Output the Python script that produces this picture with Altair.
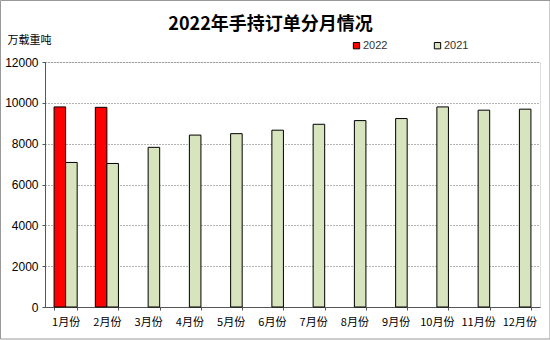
import altair as alt
import pandas as pd

months = ["1月份", "2月份", "3月份", "4月份", "5月份", "6月份",
          "7月份", "8月份", "9月份", "10月份", "11月份", "12月份"]
values_2022 = [9800, 9780, None, None, None, None, None, None, None, None, None, None]
values_2021 = [7080, 7030, 7820, 8420, 8490, 8660, 8950, 9130, 9230, 9800, 9640, 9690]
series = ["2022", "2021"]
colors = ["#FF0000", "#D7E4BD"]
y_ticks = [0, 2000, 4000, 6000, 8000, 10000, 12000]

rows = []
for m, v22, v21 in zip(months, values_2022, values_2021):
    if v22 is not None:
        rows.append({"month": m, "series": "2022", "value": v22})
    rows.append({"month": m, "series": "2021", "value": v21})
df = pd.DataFrame(rows)

bars = alt.Chart(df).mark_bar(stroke="#000000", strokeWidth=1).encode(
    x=alt.X("month:N", sort=months,
            scale=alt.Scale(paddingInner=0.44, paddingOuter=0.22),
            axis=alt.Axis(title=None, labelAngle=0, labelFontSize=11,
                          labelFont="Noto Sans CJK SC", labelColor="#000000",
                          labelPadding=6, tickBand="extent", tickSize=3,
                          tickColor="#555555", domainColor="#555555", grid=False)),
    xOffset=alt.XOffset("series:N", sort=series),
    y=alt.Y("value:Q", scale=alt.Scale(domain=[0, 12000], nice=False),
            axis=alt.Axis(values=y_ticks, format="d", title="万载重吨", titleAngle=0,
                          titleX=-38, titleY=-22, titleAlign="left",
                          titleBaseline="middle", titleFontWeight="normal",
                          titleFontSize=11, titleFont="Noto Sans CJK SC",
                          titleColor="#000000",
                          labelFontSize=12, labelFont="Liberation Sans",
                          labelColor="#000000", labelPadding=4, tickSize=3,
                          tickColor="#555555", domainColor="#555555",
                          gridColor="#666666", gridDash=[1, 2], gridWidth=1)),
    color=alt.Color("series:N", sort=series,
                    scale=alt.Scale(domain=series, range=colors),
                    legend=alt.Legend(title=None, orient="none", direction="horizontal",
                                      legendX=306, legendY=-22, symbolType="square",
                                      symbolSize=40, symbolStrokeColor="#000000",
                                      symbolStrokeWidth=1, labelFontSize=11,
                                      labelFont="Liberation Sans", labelColor="#333333",
                                      labelOffset=1, columnPadding=44)),
)

frame = alt.Chart(pd.DataFrame({"a": [0]})).mark_rect(
    fill=None, stroke="#999999", strokeWidth=1
).encode(x=alt.value(-44.5), x2=alt.value(505), y=alt.value(-61.5), y2=alt.value(277))

chart = alt.layer(bars, frame).properties(
    width=495, height=245,
    padding={"left": 45, "top": 62, "right": 10, "bottom": 33},
    autosize=alt.AutoSizeParams(type="none"),
    title=alt.TitleParams("2022年手持订单分月情况", fontSize=18, fontWeight="bold",
                          font="Noto Sans CJK SC", color="#000000",
                          anchor="middle", dx=-22, offset=-34),
).configure_view(stroke=None).configure(background="#FFFFFF")

chart.save("out.html", embed_options={"renderer": "svg", "actions": False})
